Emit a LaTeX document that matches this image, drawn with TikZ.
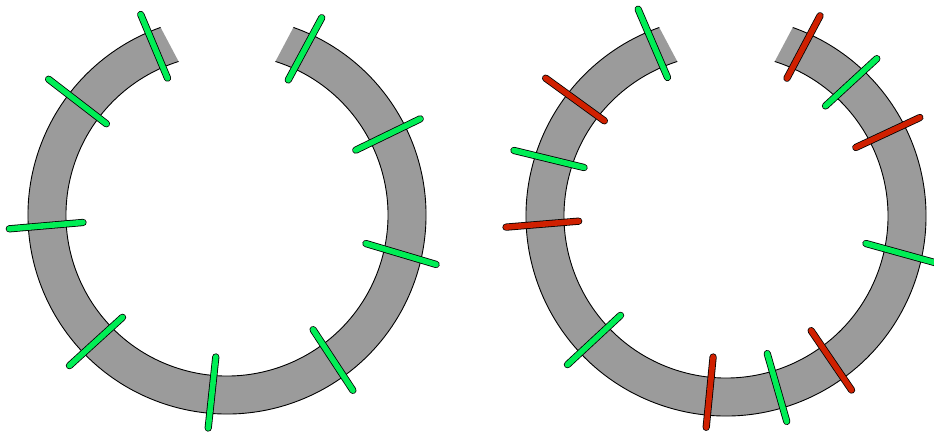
\documentclass[tikz,border=0pt]{standalone}
\usepackage{xcolor}
\definecolor{ringgray}{HTML}{9B9B9B}
\definecolor{stickgreen}{HTML}{00EE55}
\definecolor{stickred}{HTML}{D02000}
\tikzset{stick/.style = {line width=0.8pt, double distance=5.6pt, line cap=round,
                         shorten >=2pt, shorten <=2pt}}
\tikzset{gstick/.style = {stick, double=stickgreen}}
\tikzset{rstick/.style = {stick, double=stickred}}
\tikzset{rim/.style = {line width=0.9pt}}
\begin{document}
\begin{tikzpicture}[x=1pt, y=1pt, yscale=-1]
      \useasboundingbox (0,0) rectangle (934,435);
      \coordinate (lc) at (227,215);
      \coordinate (rc) at (726,216);

      % left ring
      \fill[ringgray] ([shift={(289.5:199)}]lc) arc[start angle=289.5, end angle=610.5, radius=199]
        -- ([shift={(612.5:161)}]lc) arc[start angle=612.5, end angle=287.5, radius=161] -- cycle;
      \draw[rim] ([shift={(289.5:199)}]lc) arc[start angle=289.5, end angle=610.5, radius=199];
      \draw[rim] ([shift={(287.5:161)}]lc) arc[start angle=287.5, end angle=612.5, radius=161];

      % right ring
      \fill[ringgray] ([shift={(289.5:200)}]rc) arc[start angle=289.5, end angle=610.5, radius=200]
        -- ([shift={(612.5:162)}]rc) arc[start angle=612.5, end angle=287.5, radius=162] -- cycle;
      \draw[rim] ([shift={(289.5:200)}]rc) arc[start angle=289.5, end angle=610.5, radius=200];
      \draw[rim] ([shift={(287.5:162)}]rc) arc[start angle=287.5, end angle=612.5, radius=162];

      % sticks on the left ring
      \draw[gstick] (140,12.7) -- (168.3,80);
      \draw[gstick] (47,78) -- (108,125);
      \draw[gstick] (7.3,229) -- (85,222.3);
      \draw[gstick] (68,367) -- (124,316);
      \draw[gstick] (216,355) -- (208,430);
      \draw[gstick] (312,328) -- (354,392);
      \draw[gstick] (364,243) -- (438,265);
      \draw[gstick] (354,151) -- (422,118);
      \draw[gstick] (287.3,81.7) -- (322.7,16);

      % sticks on the right ring
      \draw[gstick] (637.3,7.3) -- (668.3,79.3);
      \draw[rstick] (544,77) -- (606,122);
      \draw[gstick] (512,150) -- (586,168);
      \draw[rstick] (504,227.3) -- (580.7,221);
      \draw[gstick] (566,366) -- (622,314);
      \draw[rstick] (713.3,355) -- (706,429.3);
      \draw[gstick] (766.7,351.7) -- (787.3,423.3);
      \draw[rstick] (810,329) -- (852.7,391.7);
      \draw[gstick] (864,243) -- (940,264);
      \draw[rstick] (854,148.3) -- (921.7,116.7);
      \draw[gstick] (824,107.3) -- (878.3,57.3);
      \draw[rstick] (786,80) -- (821,14);
\end{tikzpicture}
\end{document}
